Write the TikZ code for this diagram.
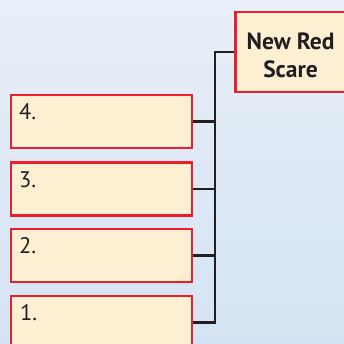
\documentclass[tikz,border=0pt]{standalone}
\usepackage{fontspec}
\setmainfont{PT Sans}
\usetikzlibrary{calc}
\definecolor{bgtop}{RGB}{232,239,248}
\definecolor{bgbot}{RGB}{212,227,243}
\definecolor{cream}{RGB}{255,240,212}
\definecolor{bred}{RGB}{237,28,46}
\definecolor{ink}{RGB}{35,31,32}
\tikzset{
  box/.style={draw=bred, fill=cream, line width=2.5pt, rectangle, inner sep=0pt},
  numtxt/.style={anchor=base west, inner sep=0pt, text=ink, font=\fontsize{22.5}{26}\selectfont},
  conn/.style={draw=ink, line width=2.5pt}
}
\begin{document}
\begin{tikzpicture}[x=1pt,y=1pt]
\clip (0,0) rectangle (344,-344);
\shade[top color=bgtop, bottom color=bgbot] (0,0) rectangle (344,-344);
% top box
\node[box, minimum width=111pt, minimum height=80pt] (top) at (291,-52) {};
\node[inner sep=0pt, text=ink, align=center, font=\bfseries\fontsize{23.5}{28}\selectfont] (title) at (290.5,-55) {New Red\\Scare};
% numbered boxes
\node[box, minimum width=181pt, minimum height=53pt] (b4) at (101.5,-121.5) {};
\node[box, minimum width=181pt, minimum height=53pt] (b3) at (101.5,-189) {};
\node[box, minimum width=181pt, minimum height=53pt] (b2) at (101.5,-255.5) {};
\node[box, minimum width=181pt, minimum height=53pt] (b1) at (101.5,-322.5) {};
\node[numtxt] (t4) at (19,-120) {4.};
\node[numtxt] (t3) at (19,-187) {3.};
\node[numtxt] (t2) at (19,-253.5) {2.};
\node[numtxt] (t1) at (20,-320.5) {1.};
% connectors
\coordinate (jtop) at (215,-52);
\coordinate (jbot) at (215,-322.5);
\draw[conn, line join=miter] (top.west) -- (jtop) -- (jbot) -- (b1.east);
\draw[conn] (b4.east) -- (b4.east -| jtop);
\draw[conn] (b3.east) -- (b3.east -| jtop);
\draw[conn] (b2.east) -- (b2.east -| jtop);
\end{tikzpicture}
\end{document}
